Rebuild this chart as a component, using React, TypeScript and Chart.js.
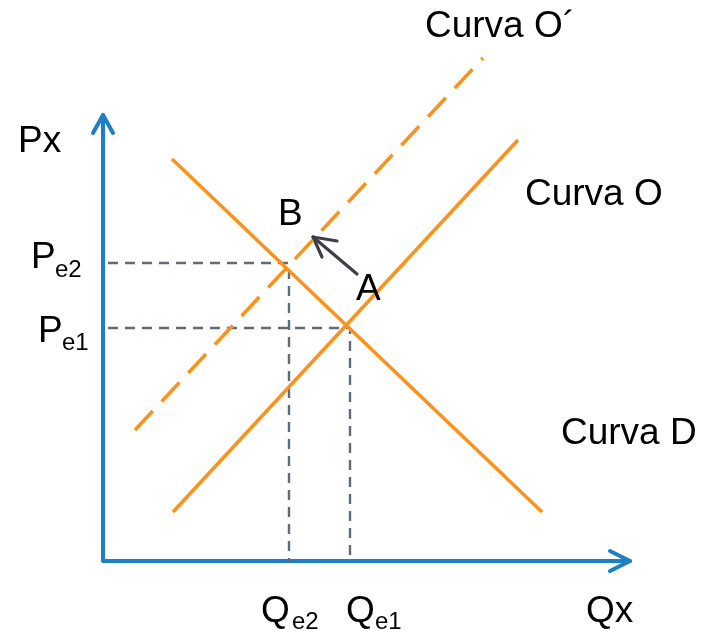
import React, { useEffect, useRef } from "react";
import { Chart, registerables } from "chart.js";

Chart.register(...registerables);

// Stylised supply/demand diagram, units: quantity (x) and price (y)
const demandD = [
  { x: 69, y: 402 },
  { x: 439, y: 49 },
];
const supplyO = [
  { x: 70, y: 49 },
  { x: 415, y: 421 },
];
const supplyO2 = [
  { x: 32, y: 131 },
  { x: 380, y: 503 },
];
const Qe1 = 247;
const Pe1 = 233;
const Qe2 = 186;
const Pe2 = 298;
const guideStart = 5;

const yAxisTop = 446;
const xAxisEnd = 527;

const shiftTail = { x: 254, y: 287 };
const shiftTip = { x: 210, y: 324 };
const shiftWings = [
  { x: 219, y: 304 },
  { x: 234, y: 320 },
];

type Label = { text: string; sub?: string; x: number; y: number; subDx?: number; subDy?: number };
const labels: Label[] = [
  { text: "Px", x: -85, y: 409 },
  { text: "P", sub: "e2", x: -72, y: 293, subDx: 24, subDy: -9 },
  { text: "P", sub: "e1", x: -65, y: 219, subDx: 24, subDy: -8 },
  { text: "Q", sub: "e2", x: 158, y: -61, subDx: 31, subDy: -7 },
  { text: "Q", sub: "e1", x: 243, y: -61, subDx: 29, subDy: -7 },
  { text: "Qx", x: 483, y: -61 },
  { text: "Curva O´", x: 322, y: 524 },
  { text: "Curva O", x: 422, y: 356 },
  { text: "Curva D", x: 458, y: 117 },
  { text: "B", x: 175, y: 336 },
  { text: "A", x: 253, y: 261 },
];

const ORANGE = "#F7931E";
const BLUE = "#1E7EC6";
const GRAY = "#5F6B78";
const DARK = "#3B4048";

export default function App() {
  const ref = useRef<HTMLCanvasElement | null>(null);
  useEffect(() => {
    document.body.style.margin = "0";
    const canvas = ref.current;
    if (!canvas) return;
    const textPlugin = {
      id: "labels",
      afterDatasetsDraw(chart: any) {
        const ctx = chart.ctx;
        const xs = chart.scales.x;
        const ys = chart.scales.y;
        ctx.save();
        ctx.fillStyle = "#000";
        ctx.textBaseline = "alphabetic";
        ctx.textAlign = "left";
        for (const l of labels) {
          const px = xs.getPixelForValue(l.x);
          const py = ys.getPixelForValue(l.y);
          ctx.font = "37px 'Liberation Sans', Arial, sans-serif";
          ctx.fillText(l.text, px, py);
          if (l.sub) {
            ctx.font = "24px 'Liberation Sans', Arial, sans-serif";
            ctx.fillText(
              l.sub,
              xs.getPixelForValue(l.x + (l.subDx || 0)),
              ys.getPixelForValue(l.y + (l.subDy || 0))
            );
          }
        }
        ctx.restore();
      },
    };
    const line = (data: any[], color: string, width: number, dash: number[] = [], cap = "butt") => ({
      data,
      showLine: true,
      borderColor: color,
      backgroundColor: color,
      borderWidth: width,
      borderDash: dash,
      borderCapStyle: cap,
      borderJoinStyle: "round",
      pointRadius: 0,
      fill: false,
      tension: 0,
    });
    const chart = new Chart(canvas, {
      type: "scatter",
      data: {
        datasets: [
          line(demandD, ORANGE, 3.6),
          line(supplyO, ORANGE, 3.6),
          line(supplyO2, ORANGE, 3.6, [26, 13]),
          line([shiftTail, shiftTip], DARK, 3.2, [], "round"),
          line([shiftWings[0], shiftTip, shiftWings[1]], DARK, 3.2, [], "round"),
          line([{ x: guideStart, y: Pe2 }, { x: Qe2, y: Pe2 }, { x: Qe2, y: 0 }], GRAY, 2.4, [10, 7]),
          line([{ x: guideStart, y: Pe1 }, { x: Qe1, y: Pe1 }, { x: Qe1, y: 0 }], GRAY, 2.4, [10, 7]),
          line([{ x: 0, y: yAxisTop }, { x: 0, y: 0 }, { x: xAxisEnd, y: 0 }], BLUE, 4, [], "round"),
          line([{ x: -10, y: yAxisTop - 18 }, { x: 0, y: yAxisTop }, { x: 10, y: yAxisTop - 18 }], BLUE, 4, [], "round"),
          line([{ x: xAxisEnd - 20, y: 10 }, { x: xAxisEnd, y: 0 }, { x: xAxisEnd - 20, y: -10 }], BLUE, 4, [], "round"),
        ] as any,
      },
      options: {
        responsive: false,
        animation: false,
        devicePixelRatio: 1,
        layout: { padding: 0 },
        plugins: { legend: { display: false }, tooltip: { enabled: false } },
        scales: {
          x: { type: "linear", min: -103, max: 606, display: false },
          y: { type: "linear", min: -70, max: 561, display: false },
        },
      },
      plugins: [textPlugin],
    });
    return () => chart.destroy();
  }, []);
  return (
    <div style={{ position: "absolute", left: 0, top: 0, width: 709, height: 631, background: "#fff" }}>
      <canvas ref={ref} width={709} height={631} />
    </div>
  );
}
